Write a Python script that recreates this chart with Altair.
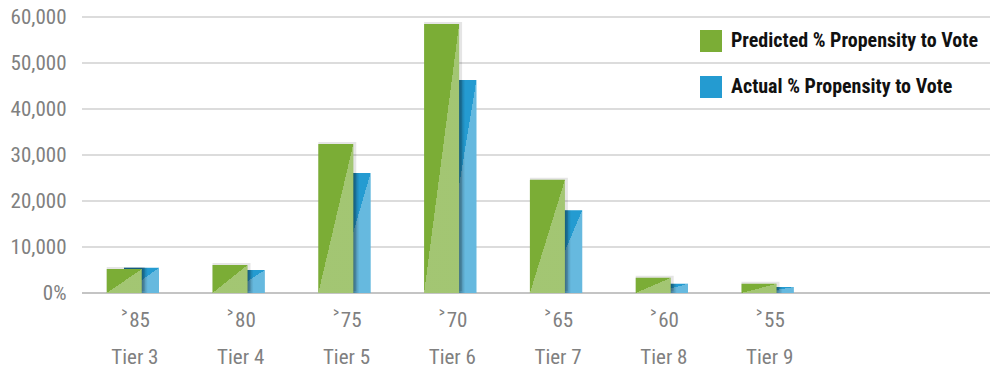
import altair as alt
import pandas as pd

tiers = ["Tier 3", "Tier 4", "Tier 5", "Tier 6", "Tier 7", "Tier 8", "Tier 9"]
thresholds = ["˃85", "˃80", "˃75", "˃70", "˃65", "˃60", "˃55"]
predicted = [5200, 6100, 32400, 58500, 24600, 3300, 2000]
actual = [5500, 5000, 26100, 46300, 18000, 2000, 1300]
series = ["Predicted % Propensity to Vote", "Actual % Propensity to Vote"]
y_ticks = [0, 10000, 20000, 30000, 40000, 50000, 60000]

GREEN = "#7BAD36"
BLUE = "#249BD1"
FONT = "Liberation Sans Narrow, Roboto Condensed, DejaVu Sans Condensed, sans-serif"

cats = [f"{th}|{t}" for th, t in zip(thresholds, tiers)]
rows = []
for c, p, a in zip(cats, predicted, actual):
    rows.append({"cat": c, "series": series[0], "value": p})
    rows.append({"cat": c, "series": series[1], "value": a})
df = pd.DataFrame(rows)

x = alt.X(
    "cat:N",
    sort=cats,
    scale=alt.Scale(domain=cats, range=[0, 740.6], paddingInner=0, paddingOuter=0),
    axis=alt.Axis(
        title=None, labelAngle=0, labelExpr="split(datum.label, '|')",
        labelFont=FONT, labelFontSize=21, labelColor="#808080",
        labelLineHeight=37, labelPadding=16, ticks=False, domain=False,
        labelBaseline="top",
    ),
)
y = alt.Y(
    "value:Q",
    scale=alt.Scale(domain=[0, 60000], nice=False),
    axis=alt.Axis(
        title=None, values=y_ticks,
        labelExpr="datum.value == 0 ? '0%' : format(datum.value, ',')",
        labelFont=FONT, labelFontSize=21, labelColor="#808080",
        labelPadding=16, ticks=False, domain=False, grid=False,
    ),
)

color = alt.Color(
    "series:N",
    scale=alt.Scale(domain=series, range=[GREEN, BLUE]),
    legend=alt.Legend(
        title=None, orient="none", legendX=618, legendY=13,
        symbolType="square", symbolSize=484, symbolStrokeWidth=0,
        labelFont=FONT, labelFontSize=20, labelFontWeight="bold",
        labelColor="#111111", labelLimit=400, rowPadding=24, labelOffset=9,
        padding=0,
    ),
)


def diag(alpha):
    return alt.LinearGradient(
        gradient="linear",
        stops=[
            alt.GradientStop(color="rgba(255,255,255,0)", offset=0),
            alt.GradientStop(color="rgba(255,255,255,0)", offset=0.5),
            alt.GradientStop(color=f"rgba(255,255,255,{alpha})", offset=0.5),
            alt.GradientStop(color=f"rgba(255,255,255,{alpha})", offset=1),
        ],
        x1=0, y1=0, x2=1, y2=1,
    )


shade = alt.LinearGradient(
    gradient="linear",
    stops=[
        alt.GradientStop(color="rgba(0,0,0,0.35)", offset=0),
        alt.GradientStop(color="rgba(0,0,0,0.35)", offset=0.5),
        alt.GradientStop(color="rgba(0,0,0,0)", offset=0.68),
        alt.GradientStop(color="rgba(0,0,0,0)", offset=1),
    ],
    x1=0, y1=0, x2=1, y2=0,
)

base = alt.Chart(df)
act = base.transform_filter(alt.datum.series == series[1])
pred = base.transform_filter(alt.datum.series == series[0])

GX = -10.7
BX = 6.6
W = 35

grid = alt.Chart(pd.DataFrame({"value": y_ticks[1:]})).mark_rule(
    color="#d0d0d0", strokeWidth=1.3
).encode(y=alt.Y("value:Q"))

zero = alt.Chart(pd.DataFrame({"value": y_ticks[:1]})).mark_rule(
    color="#b0b0b0", strokeWidth=1.5
).encode(y=alt.Y("value:Q"))

blue_bar = act.mark_bar(width=W, xOffset=BX).encode(x=x, y=y, color=color)
blue_light = act.mark_bar(width=W, xOffset=BX, color=diag(0.3)).encode(x=x, y=y)
blue_shade = act.mark_bar(width=W, xOffset=BX, color=shade).encode(x=x, y=y)
green_shadow = pred.mark_bar(
    width=W + 3, xOffset=GX + 1.5, yOffset=-2, color="rgba(0,0,0,0.10)"
).encode(x=x, y=y)
green_bar = pred.mark_bar(width=W, xOffset=GX).encode(x=x, y=y, color=color)
green_light = pred.mark_bar(width=W, xOffset=GX, color=diag(0.3)).encode(x=x, y=y)

chart = alt.layer(
    grid, zero, blue_bar, blue_light, blue_shade, green_shadow, green_bar, green_light
).properties(
    width=908, height=276,
    padding={"left": 82, "top": 17, "right": 6, "bottom": 76},
    autosize=alt.AutoSizeParams(type="none"),
    background="white",
).configure_view(stroke=None)

chart.save("out.html", embed_options={"renderer": "svg", "actions": False})
